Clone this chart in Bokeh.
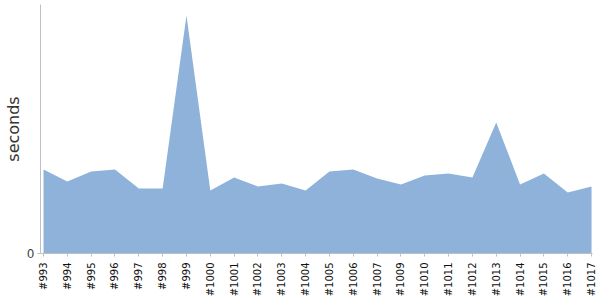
import math
from bokeh.plotting import figure
from bokeh.models import Range1d, FixedTicker
from bokeh.embed import file_html
from bokeh.resources import INLINE

builds = ["#993", "#994", "#995", "#996", "#997", "#998", "#999", "#1000",
          "#1001", "#1002", "#1003", "#1004", "#1005", "#1006", "#1007",
          "#1009", "#1010", "#1011", "#1012", "#1013", "#1014", "#1015",
          "#1016", "#1017"]
seconds = [8.4, 7.2, 8.2, 8.4, 6.5, 6.5, 23.8, 6.3,
           7.6, 6.7, 7.0, 6.3, 8.2, 8.4, 7.5,
           6.9, 7.8, 8.0, 7.6, 13.1, 6.9, 8.0,
           6.1, 6.7]
y_ticks = [0]

idx = list(range(len(builds)))

p = figure(width=600, height=300, output_backend="svg", toolbar_location=None,
           x_range=Range1d(-0.126, len(builds) - 1 + 0.04),
           y_range=Range1d(0, 24.9),
           min_border_left=40, min_border_right=8, min_border_top=4,
           min_border_bottom=47)
p.outline_line_color = None
p.grid.visible = False
p.background_fill_color = "white"
p.border_fill_color = "white"

p.varea(x=idx, y1=[0] * len(idx), y2=seconds, fill_color="#8fb2da", fill_alpha=1.0)

xa = p.xaxis[0]
xa.ticker = FixedTicker(ticks=idx)
xa.major_label_overrides = {i: b for i, b in enumerate(builds)}
xa.major_label_orientation = math.pi / 2
xa.major_label_text_font = "DejaVu Sans"
xa.major_label_text_font_size = "10px"
xa.major_label_text_color = "#111111"
xa.major_label_standoff = 6
xa.axis_line_color = "#c0c0c0"
xa.major_tick_line_color = "#c0c0c0"
xa.major_tick_out = 3
xa.major_tick_in = 0
xa.minor_tick_line_color = None

ya = p.yaxis[0]
ya.ticker = FixedTicker(ticks=y_ticks)
ya.axis_label = "seconds"
ya.axis_label_text_font = "DejaVu Sans"
ya.axis_label_text_font_size = "16px"
ya.axis_label_text_font_style = "normal"
ya.axis_label_text_color = "#333333"
ya.axis_label_standoff = 1
ya.major_label_text_font = "DejaVu Sans"
ya.major_label_text_font_size = "12px"
ya.major_label_text_color = "#444444"
ya.major_label_standoff = 3
ya.axis_line_color = "#c0c0c0"
ya.major_tick_line_color = "#c0c0c0"
ya.major_tick_out = 3
ya.major_tick_in = 0
ya.minor_tick_line_color = None

open("out.html", "w").write(file_html(p, INLINE))
